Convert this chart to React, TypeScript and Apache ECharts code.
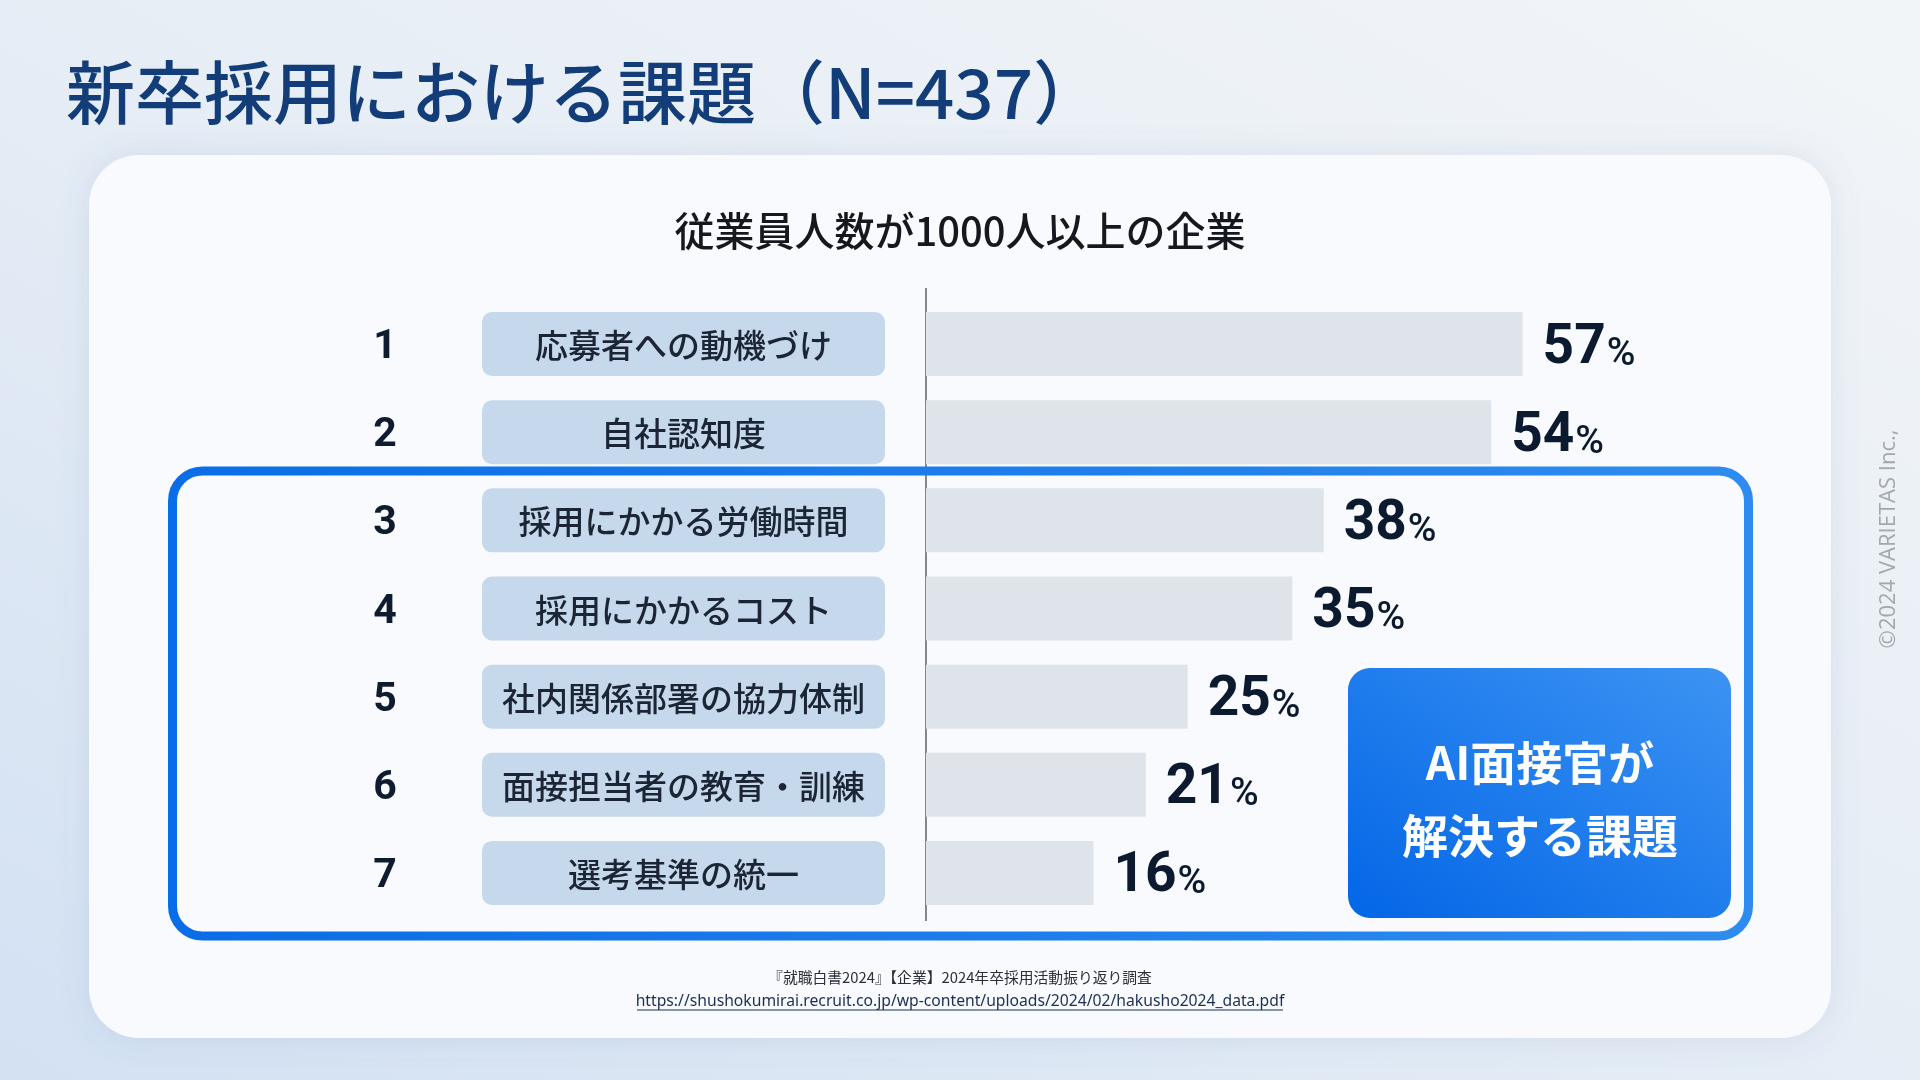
import React, { useEffect, useRef } from "react";
import * as echarts from "echarts";

const categories = [
  "応募者への動機づけ",
  "自社認知度",
  "採用にかかる労働時間",
  "採用にかかるコスト",
  "社内関係部署の協力体制",
  "面接担当者の教育・訓練",
  "選考基準の統一",
];
const ranks = ["1", "2", "3", "4", "5", "6", "7"];
const values = [57, 54, 38, 35, 25, 21, 16];

const titleText = "新卒採用における課題（N=437）";
const subtitleText = "従業員人数が1000人以上の企業";
const calloutLines = ["AI面接官が", "解決する課題"];
const sourceText = "『就職白書2024』【企業】2024年卒採用活動振り返り調査";
const sourceUrl = "https://shushokumirai.recruit.co.jp/wp-content/uploads/2024/02/hakusho2024_data.pdf";
const copyrightText = "©2024 VARIETAS Inc.,";

const JP = "'Noto Sans CJK JP', 'Noto Sans', sans-serif";
const NUM = "Roboto, 'Noto Sans', sans-serif";

export default function App() {
  const ref = useRef<HTMLDivElement>(null);

  useEffect(() => {
    if (!ref.current) return;
    const chart = echarts.init(ref.current, null, { renderer: "svg" });

    const option: any = {
      animation: false,
      backgroundColor: "transparent",
      grid: { left: 926, top: 300, width: 628, height: 617, containLabel: false },
      xAxis: { type: "value", min: 0, max: 60, show: false },
      yAxis: {
        type: "category",
        data: categories,
        inverse: true,
        axisLine: { show: false },
        axisTick: { show: false },
        axisLabel: { show: false },
        splitLine: { show: false },
      },
      graphic: [
        {
          type: "rect",
          z: -10,
          shape: { x: 0, y: 0, width: 1920, height: 1080 },
          style: {
            fill: new echarts.graphic.LinearGradient(0, 1, 1, 0, [
              { offset: 0, color: "#d3e1f3" },
              { offset: 0.5, color: "#e6edf5" },
              { offset: 1, color: "#f2f5f8" },
            ]),
          },
        },
        {
          type: "text",
          z: 1,
          style: {
            text: titleText,
            x: 66,
            y: 89,
            verticalAlign: "middle",
            align: "left",
            fontSize: 69,
            fontWeight: 500,
            fontFamily: JP,
            fill: "#123d78",
          },
        },
        {
          type: "rect",
          z: -5,
          shape: { x: 89, y: 155, width: 1742, height: 883, r: 50 },
          style: {
            fill: "#f8fafd",
            shadowBlur: 30,
            shadowColor: "rgba(90,120,170,0.15)",
          },
        },
        {
          type: "text",
          z: 1,
          style: {
            text: subtitleText,
            x: 960,
            y: 229,
            align: "center",
            verticalAlign: "middle",
            fontSize: 40,
            fontWeight: 500,
            fontFamily: JP,
            fill: "#15181e",
          },
        },
        {
          type: "line",
          z: 2,
          shape: { x1: 926, y1: 288, x2: 926, y2: 921 },
          style: { stroke: "#5c6066", lineWidth: 1.5 },
        },
        {
          type: "rect",
          z: 20,
          shape: { x: 172.5, y: 471, width: 1576, height: 465, r: 30 },
          style: {
            fill: "none",
            lineWidth: 9,
            stroke: new echarts.graphic.LinearGradient(0, 0, 1, 0, [
              { offset: 0, color: "#0a6de8" },
              { offset: 1, color: "#2e8cf0" },
            ]),
          },
        },
        {
          type: "rect",
          z: 20,
          shape: { x: 1348, y: 668, width: 383, height: 250, r: 22 },
          style: {
            fill: new echarts.graphic.LinearGradient(0, 1, 1, 0, [
              { offset: 0, color: "#0366e6" },
              { offset: 1, color: "#3c93f3" },
            ]),
          },
        },
        {
          type: "text",
          z: 21,
          style: {
            text: calloutLines[0],
            x: 1540,
            y: 760,
            align: "center",
            verticalAlign: "middle",
            fontSize: 46,
            fontWeight: "bold",
            fontFamily: JP,
            fill: "#ffffff",
          },
        },
        {
          type: "text",
          z: 21,
          style: {
            text: calloutLines[1],
            x: 1540,
            y: 833,
            align: "center",
            verticalAlign: "middle",
            fontSize: 46,
            fontWeight: "bold",
            fontFamily: JP,
            fill: "#ffffff",
          },
        },
        {
          type: "text",
          z: 1,
          style: {
            text: sourceText,
            x: 960,
            y: 976,
            align: "center",
            verticalAlign: "middle",
            fontSize: 14.8,
            fontFamily: JP,
            fill: "#2a2f38",
          },
        },
        {
          type: "text",
          z: 1,
          style: {
            text: sourceUrl,
            x: 960,
            y: 1000,
            align: "center",
            verticalAlign: "middle",
            fontSize: 15.7,
            fontFamily: "'Noto Sans', sans-serif",
            fill: "#1b2f55",
          },
        },
        {
          type: "line",
          z: 1,
          shape: { x1: 637, y1: 1010, x2: 1283, y2: 1010 },
          style: { stroke: "#1b2f55", lineWidth: 1 },
        },
        {
          type: "text",
          z: 1,
          rotation: Math.PI / 2,
          x: 1886,
          y: 539,
          style: {
            text: copyrightText,
            x: 0,
            y: 0,
            align: "center",
            verticalAlign: "middle",
            fontSize: 22,
            fontFamily: "'Open Sans', 'Noto Sans', sans-serif",
            fill: "#a4a8ad",
          },
        },
      ],
      series: [
        {
          type: "bar",
          data: values,
          barWidth: 64,
          z: 3,
          itemStyle: { color: "#dfe4ea" },
          label: {
            show: true,
            position: "right",
            distance: 20,
            offset: [0, -3],
            formatter: (p: any) => `{v|${p.value}}{p|%}`,
            rich: {
              v: {
                fontSize: 55,
                fontWeight: "bold",
                fontFamily: NUM,
                color: "#0c1a2f",
                verticalAlign: "bottom",
                lineHeight: 60,
              },
              p: {
                fontSize: 39,
                fontWeight: 500,
                fontFamily: NUM,
                color: "#0c1a2f",
                verticalAlign: "bottom",
                lineHeight: 60,
                padding: [0, 0, 0, 1],
              },
            },
          },
        },
        {
          type: "custom",
          z: 4,
          clip: false,
          data: categories.map((_, i) => [0, i]),
          encode: { x: 0, y: 1 },
          renderItem: (params: any, api: any) => {
            const idx = api.value(1);
            const p = api.coord([0, idx]);
            return {
              type: "group",
              children: [
                {
                  type: "text",
                  style: {
                    text: ranks[idx],
                    x: p[0] - 541,
                    y: p[1],
                    align: "center",
                    verticalAlign: "middle",
                    fontSize: 41,
                    fontWeight: "bold",
                    fontFamily: NUM,
                    fill: "#0f1c30",
                  },
                },
                {
                  type: "rect",
                  shape: { x: p[0] - 444, y: p[1] - 32, width: 403, height: 64, r: 10 },
                  style: { fill: "#c6d8eb" },
                },
                {
                  type: "text",
                  style: {
                    text: categories[idx],
                    x: p[0] - 242.5,
                    y: p[1],
                    align: "center",
                    verticalAlign: "middle",
                    fontSize: 33,
                    fontWeight: 500,
                    fontFamily: JP,
                    fill: "#1b2535",
                  },
                },
              ],
            };
          },
        },
      ],
    };

    chart.setOption(option);
    return () => chart.dispose();
  }, []);

  return (
    <div
      ref={ref}
      style={{ position: "fixed", left: 0, top: 0, width: 1920, height: 1080 }}
    />
  );
}
